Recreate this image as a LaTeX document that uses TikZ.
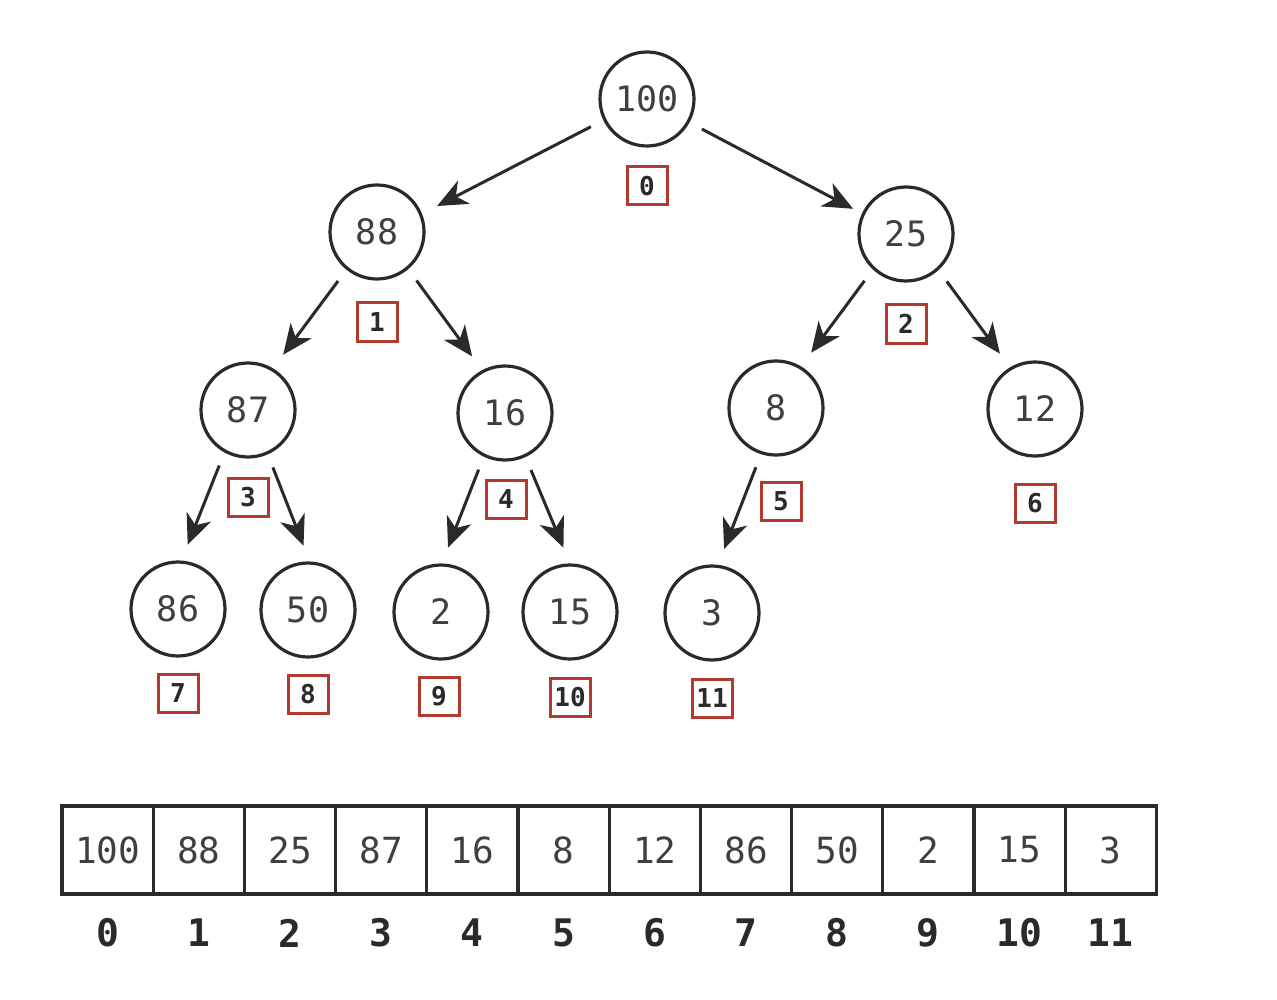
\documentclass[tikz,border=0pt]{standalone}
\usepackage{fontspec}
\newfontfamily\dmono{DejaVu Sans Mono}
\usetikzlibrary{arrows.meta}
\definecolor{idxred}{HTML}{B23A2E}
\definecolor{ink}{HTML}{2A2A2A}
\begin{document}
\begin{tikzpicture}[x=1pt,y=-1pt,
  heapnode/.style={circle,draw=ink,line width=3.2pt,minimum size=94pt,inner sep=0pt,text=ink!90,
    font=\dmono\fontsize{35}{35}\selectfont},
  idxbox/.style={draw=idxred,line width=3pt,minimum width=40pt,minimum height=38pt,inner sep=2pt,text=ink,
    font=\dmono\bfseries\fontsize{26}{26}\selectfont},
  cell/.style={draw=ink,line width=3.2pt,minimum width=91.2pt,minimum height=88pt,inner sep=0pt,text=ink!90,
    font=\dmono\fontsize{36}{36}\selectfont},
  celllabel/.style={inner sep=0pt,text=ink,font=\dmono\bfseries\fontsize{38}{38}\selectfont},
  arr/.style={draw=ink,line width=3pt,-{Stealth[length=30pt,width=26pt,inset=9pt]},shorten <=14pt,shorten >=17pt}]
\useasboundingbox[fill=white] (0,0) rectangle (1277,1000);

% heap nodes
\node[heapnode] (n0)  at (647,99)  {100};
\node[heapnode] (n1)  at (377,232) {88};
\node[heapnode] (n2)  at (906,234) {25};
\node[heapnode] (n3)  at (248,410) {87};
\node[heapnode] (n4)  at (505,413) {16};
\node[heapnode] (n5)  at (776,408) {8};
\node[heapnode] (n6)  at (1035,409) {12};
\node[heapnode] (n7)  at (178,609) {86};
\node[heapnode] (n8)  at (308,610) {50};
\node[heapnode] (n9)  at (441,612) {2};
\node[heapnode] (n10) at (570,612) {15};
\node[heapnode] (n11) at (712,613) {3};

% index boxes
\node[idxbox] (i0)  at (647,186) {0};
\node[idxbox] (i1)  at (377,322) {1};
\node[idxbox] (i2)  at (906,324) {2};
\node[idxbox] (i3)  at (248,497) {3};
\node[idxbox] (i4)  at (506,499) {4};
\node[idxbox] (i5)  at (781,501) {5};
\node[idxbox] (i6)  at (1035,503) {6};
\node[idxbox] (i7)  at (178,693) {7};
\node[idxbox] (i8)  at (308,694) {8};
\node[idxbox] (i9)  at (439,696) {9};
\node[idxbox] (i10) at (570,697) {10};
\node[idxbox] (i11) at (712,698) {11};

% edges
\draw[arr] (n0.206) -- (n1.22);
\draw[arr,shorten >=10pt] (n0.331) -- (n2.155);
\draw[arr] (n1.231) -- (n3.59);
\draw[arr] (n1.310) -- (n4.118);
\draw[arr] (n2.227) -- (n5.59);
\draw[arr] (n2.312) -- (n6.121);
\draw[arr] (n3.241) -- (n7.86);
\draw[arr] (n3.294) -- (n8.88);
\draw[arr] (n4.244) -- (n9.89);
\draw[arr] (n4.295) -- (n10.90);
\draw[arr] (n5.252) -- (n11.83);

% array
\foreach \v [count=\k from 0] in {100,88,25,87,16,8,12,86,50,2,15,3} {
  \node[cell] (a\k) at ({107.6+91.2*\k},850) {\v};
  \node[celllabel] (l\k) at ({107.6+91.2*\k},933) {\k};
}
\end{tikzpicture}
\end{document}
